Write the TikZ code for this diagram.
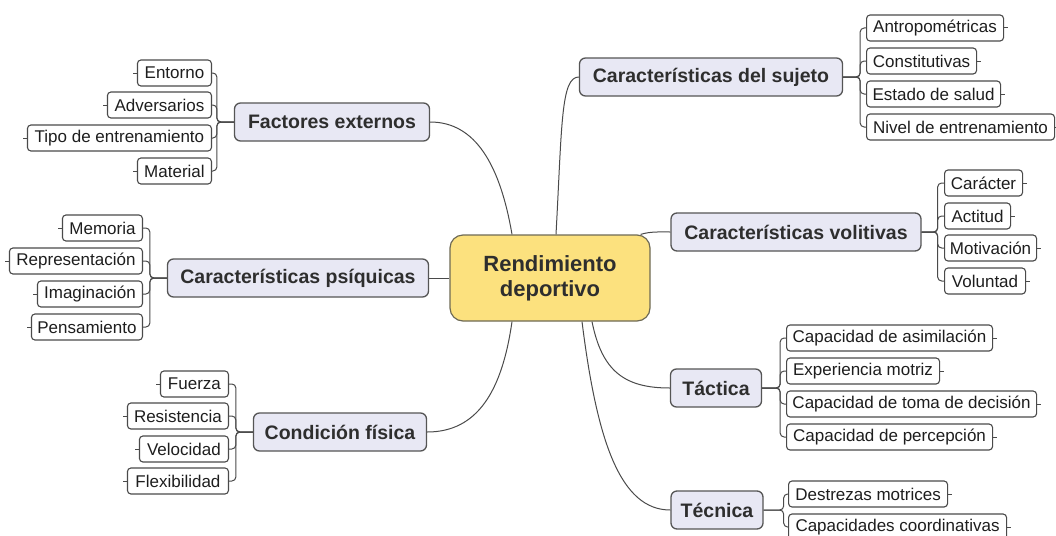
\documentclass[tikz,border=0pt]{standalone}
\usepackage{fontspec}
\setmainfont{Liberation Sans}
\usetikzlibrary{calc}
\definecolor{txt}{HTML}{2E2E2E}
\definecolor{leaftxt}{HTML}{1E1E1E}
\definecolor{leafline}{HTML}{4A4A4A}
\definecolor{brline}{HTML}{555555}
\definecolor{brfill}{HTML}{E8E8F4}
\definecolor{cenfill}{HTML}{FCE17E}
\definecolor{cenline}{HTML}{6E6A55}
\definecolor{connc}{HTML}{4A4A4A}
\begin{document}
\begin{tikzpicture}[x=1pt,y=-1pt,
  leaf/.style={draw=leafline, fill=white, rounded corners=3.5pt, line width=1.1pt, minimum height=26pt, inner xsep=0pt, inner ysep=0pt, font=\fontsize{17}{19}\selectfont, text=leaftxt},
  leafL/.style={leaf, anchor=east},
  leafR/.style={leaf, anchor=west},
  branch/.style={draw=brline, fill=brfill, rounded corners=6pt, line width=1.3pt, minimum height=38pt, inner sep=0pt, font=\fontsize{19.5}{22}\selectfont\bfseries, text=txt},
  central/.style={draw=cenline, fill=cenfill, rounded corners=13pt, line width=1.2pt, minimum width=200pt, minimum height=86pt, inner sep=0pt, align=center, font=\fontsize{22}{25}\selectfont\bfseries, text=txt},
  conn/.style={draw=connc, line width=1pt},
  brk/.style={conn, rounded corners=4pt},
  tick/.style={conn}
]
\useasboundingbox (0,0) rectangle (1056,535);

% central
\node[central] (cen) at (550,278) {Rendimiento\\deportivo};

% branches
\node[branch, minimum width=263pt] (su) at (711,77) {Características del sujeto};
\node[branch, minimum width=195pt] (fe) at (332,122) {Factores externos};
\node[branch, minimum width=261pt] (ps) at (298,278) {Características psíquicas};
\node[branch, minimum width=173pt] (cf) at (340,432) {Condición física};
\node[branch, minimum width=250pt] (vo) at (796,232) {Características volitivas};
\node[branch, minimum width=91pt] (ta) at (716,388) {Táctica};
\node[branch, minimum width=92pt] (te) at (717,510) {Técnica};

% central connectors
\draw[conn] ([xshift=6pt]cen.north) .. controls +(6,-110) and +(-18,0) .. (su.west);
\draw[conn] ([xshift=-38pt]cen.north) .. controls +(-12,-70) and +(45,0) .. (fe.east);
\draw[conn] (cen.west) -- (ps.east);
\draw[conn] ([xshift=-38pt]cen.south) .. controls +(-10,70) and +(50,0) .. (cf.east);
\draw[conn] ([xshift=-10pt]cen.north east) .. controls +(10,-3) and +(-12,0) .. (vo.west);
\draw[conn] ([xshift=42pt]cen.south) .. controls +(10,50) and +(-45,0) .. (ta.west);
\draw[conn] ([xshift=32pt]cen.south) .. controls +(15,120) and +(-50,0) .. (te.west);

% Factores externos leaves
\node[leafL, minimum width=74pt] (fe1) at (212,73) {Entorno};
\node[leafL, minimum width=104pt] (fe2) at (212,105) {Adversarios};
\node[leafL, minimum width=184pt] (fe3) at (212,138) {Tipo de entrenamiento};
\node[leafL, minimum width=74pt] (fe4) at (212,171) {Material};
\foreach \n in {fe1,fe2,fe3,fe4}{
  \draw[brk] (fe.west) -- ++(-17,0) |- (\n.east);
  \draw[tick] (\n.west) -- ++(-4,0);
}

% Psiquicas leaves
\node[leafL, minimum width=80pt] (ps1) at (143,228) {Memoria};
\node[leafL, minimum width=133pt] (ps2) at (143,261) {Representación};
\node[leafL, minimum width=105pt] (ps3) at (143,294) {Imaginación};
\node[leafL, minimum width=111pt] (ps4) at (143,327) {Pensamiento};
\foreach \n in {ps1,ps2,ps3,ps4}{
  \draw[brk] (ps.west) -- ++(-17,0) |- (\n.east);
  \draw[tick] (\n.west) -- ++(-4,0);
}

% Condicion fisica leaves
\node[leafL, minimum width=68pt] (cf1) at (229,384) {Fuerza};
\node[leafL, minimum width=101pt] (cf2) at (229,416) {Resistencia};
\node[leafL, minimum width=89pt] (cf3) at (229,449) {Velocidad};
\node[leafL, minimum width=101pt] (cf4) at (229,481) {Flexibilidad};
\foreach \n in {cf1,cf2,cf3,cf4}{
  \draw[brk] (cf.west) -- ++(-17,0) |- (\n.east);
  \draw[tick] (\n.west) -- ++(-4,0);
}

% Sujeto leaves
\node[leafR, minimum width=137pt] (su1) at (866,28) {Antropométricas};
\node[leafR, minimum width=110pt] (su2) at (866,61) {Constitutivas};
\node[leafR, minimum width=134pt] (su3) at (866,94) {Estado de salud};
\node[leafR, minimum width=188pt] (su4) at (866,127) {Nivel de entrenamiento};
\foreach \n in {su1,su2,su3,su4}{
  \draw[brk] (su.east) -- ++(17,0) |- (\n.west);
  \draw[tick] (\n.east) -- ++(4,0);
}

% Volitivas leaves
\node[leafR, minimum width=78pt] (vo1) at (944,183) {Carácter};
\node[leafR, minimum width=66pt] (vo2) at (944,216) {Actitud};
\node[leafR, minimum width=92pt] (vo3) at (944,248) {Motivación};
\node[leafR, minimum width=81pt] (vo4) at (944,281) {Voluntad};
\foreach \n in {vo1,vo2,vo3,vo4}{
  \draw[brk] (vo.east) -- ++(16,0) |- (\n.west);
  \draw[tick] (\n.east) -- ++(4,0);
}

% Tactica leaves
\node[leafR, minimum width=206pt] (ta1) at (786,338) {Capacidad de asimilación};
\node[leafR, minimum width=153pt] (ta2) at (786,371) {Experiencia motriz};
\node[leafR, minimum width=250pt] (ta3) at (786,404) {Capacidad de toma de decisión};
\node[leafR, minimum width=206pt] (ta4) at (786,437) {Capacidad de percepción};
\foreach \n in {ta1,ta2,ta3,ta4}{
  \draw[brk] (ta.east) -- ++(18,0) |- (\n.west);
  \draw[tick] (\n.east) -- ++(4,0);
}

% Tecnica leaves
\node[leafR, minimum width=159pt] (te1) at (788,494) {Destrezas motrices};
\node[leafR, minimum width=218pt] (te2) at (788,527) {Capacidades coordinativas};
\foreach \n in {te1,te2}{
  \draw[brk] (te.east) -- ++(20,0) |- (\n.west);
  \draw[tick] (\n.east) -- ++(4,0);
}
\end{tikzpicture}
\end{document}
